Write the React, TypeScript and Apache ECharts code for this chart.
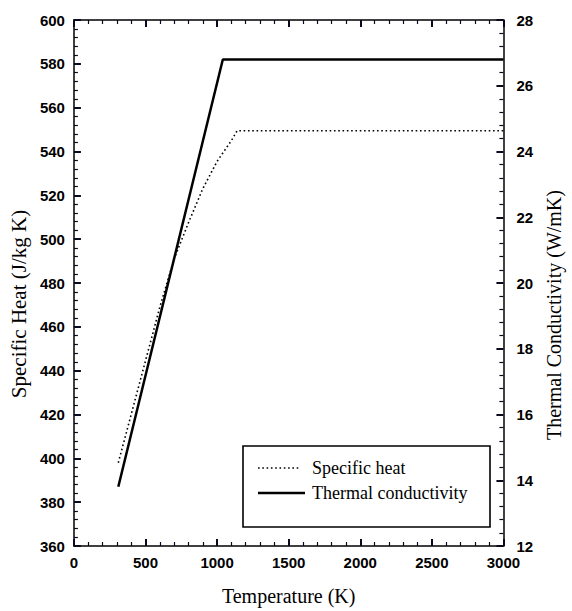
import React, { useEffect, useRef } from "react";
import * as echarts from "echarts";

// Specific heat (left axis, J/kg K)
const shTemperature = [310, 600, 700, 800, 900, 1000, 1100, 1140, 3000];
const shValues = [398, 469, 491, 507.5, 523, 535.5, 545, 549.5, 549.5];

// Thermal conductivity (right axis, W/mK)
const tcTemperature = [310, 1040, 3000];
const tcValues = [13.8, 26.8, 26.8];

const xTicks = { min: 0, max: 3000, interval: 500 };
const leftTicks = { min: 360, max: 600, interval: 20 };
const rightTicks = { min: 12, max: 28, interval: 2 };

const seriesNames = ["Specific heat", "Thermal conductivity"];

const tickColor = "#0a0a1e";

const tickFont = () => ({ fontFamily: "Liberation Sans", fontWeight: "bold" as const, fontSize: 15, color: "#000", formatter: (v: number) => String(v) });
const titleFont = { fontFamily: "Liberation Serif", fontSize: 20, color: "#000" };

const axisLine = () => ({ show: true, onZero: false, lineStyle: { color: "#000", width: 1.5 } });
const axisTick = () => ({ show: true, inside: true, length: 7, lineStyle: { color: tickColor, width: 2 } });
const minorTick = () => ({ show: true, splitNumber: 5, length: 4, lineStyle: { color: tickColor, width: 1.2 } });

const legendFont = { fontFamily: "Liberation Serif", fontSize: 18, fill: "#000" };

export default function App() {
  const ref = useRef<HTMLDivElement>(null);
  useEffect(() => {
    if (!ref.current) return;
    const chart = echarts.init(ref.current, undefined, { renderer: "svg" });
    chart.setOption({
      animation: false,
      grid: { left: 70, right: 58, top: 20, bottom: 63 },
      xAxis: [
        {
          type: "value",
          ...xTicks,
          axisLine: axisLine(),
          axisTick: axisTick(),
          minorTick: minorTick(),
          splitLine: { show: false },
          axisLabel: { ...tickFont(), margin: 9 },
          name: "Temperature (K)",
          nameLocation: "middle",
          nameGap: 40,
          nameTextStyle: titleFont,
        },
        {
          type: "value",
          position: "top",
          ...xTicks,
          axisLine: axisLine(),
          axisTick: axisTick(),
          minorTick: minorTick(),
          splitLine: { show: false },
          axisLabel: { show: false },
        },
      ],
      yAxis: [
        {
          type: "value",
          position: "left",
          ...leftTicks,
          axisLine: axisLine(),
          axisTick: axisTick(),
          minorTick: minorTick(),
          splitLine: { show: false },
          axisLabel: { ...tickFont(), margin: 9 },
          name: "Specific Heat (J/kg K)",
          nameLocation: "middle",
          nameGap: 40,
          nameTextStyle: { ...titleFont, fontSize: 21, padding: [0, 42, 0, 0] },
        },
        {
          type: "value",
          position: "right",
          ...rightTicks,
          axisLine: axisLine(),
          axisTick: axisTick(),
          minorTick: minorTick(),
          splitLine: { show: false },
          axisLabel: { ...tickFont(), margin: 13 },
          name: "Thermal Conductivity (W/mK)",
          nameLocation: "middle",
          nameGap: 37,
          nameTextStyle: { ...titleFont, padding: [0, 64, 0, 0] },
        },
      ],
      graphic: [
        {
          type: "rect",
          shape: { x: 243, y: 446, width: 247, height: 81 },
          style: { fill: "#fff", stroke: "#000", lineWidth: 1.6 },
        },
        {
          type: "line",
          shape: { x1: 258, y1: 468, x2: 300, y2: 468 },
          style: { stroke: "#000", lineWidth: 1.6, lineDash: [1.6, 2.7] },
        },
        {
          type: "text",
          x: 312,
          y: 468,
          style: { ...legendFont, text: seriesNames[0], verticalAlign: "middle" },
        },
        {
          type: "line",
          shape: { x1: 258, y1: 493, x2: 305, y2: 493 },
          style: { stroke: "#000", lineWidth: 2.5 },
        },
        {
          type: "text",
          x: 312,
          y: 493,
          style: { ...legendFont, text: seriesNames[1], verticalAlign: "middle" },
        },
      ],
      series: [
        {
          name: seriesNames[0],
          type: "line",
          xAxisIndex: 0,
          yAxisIndex: 0,
          symbol: "none",
          data: shTemperature.map((t, i) => [t, shValues[i]]),
          lineStyle: { color: "#000", width: 1.6, type: [1.6, 2.7], cap: "butt" },
        },
        {
          name: seriesNames[1],
          type: "line",
          xAxisIndex: 0,
          yAxisIndex: 1,
          symbol: "none",
          data: tcTemperature.map((t, i) => [t, tcValues[i]]),
          lineStyle: { color: "#000", width: 2.5 },
        },
      ],
    });
    return () => chart.dispose();
  }, []);
  return <div ref={ref} style={{ position: "absolute", left: 0, top: 0, width: 572, height: 611 }} />;
}
